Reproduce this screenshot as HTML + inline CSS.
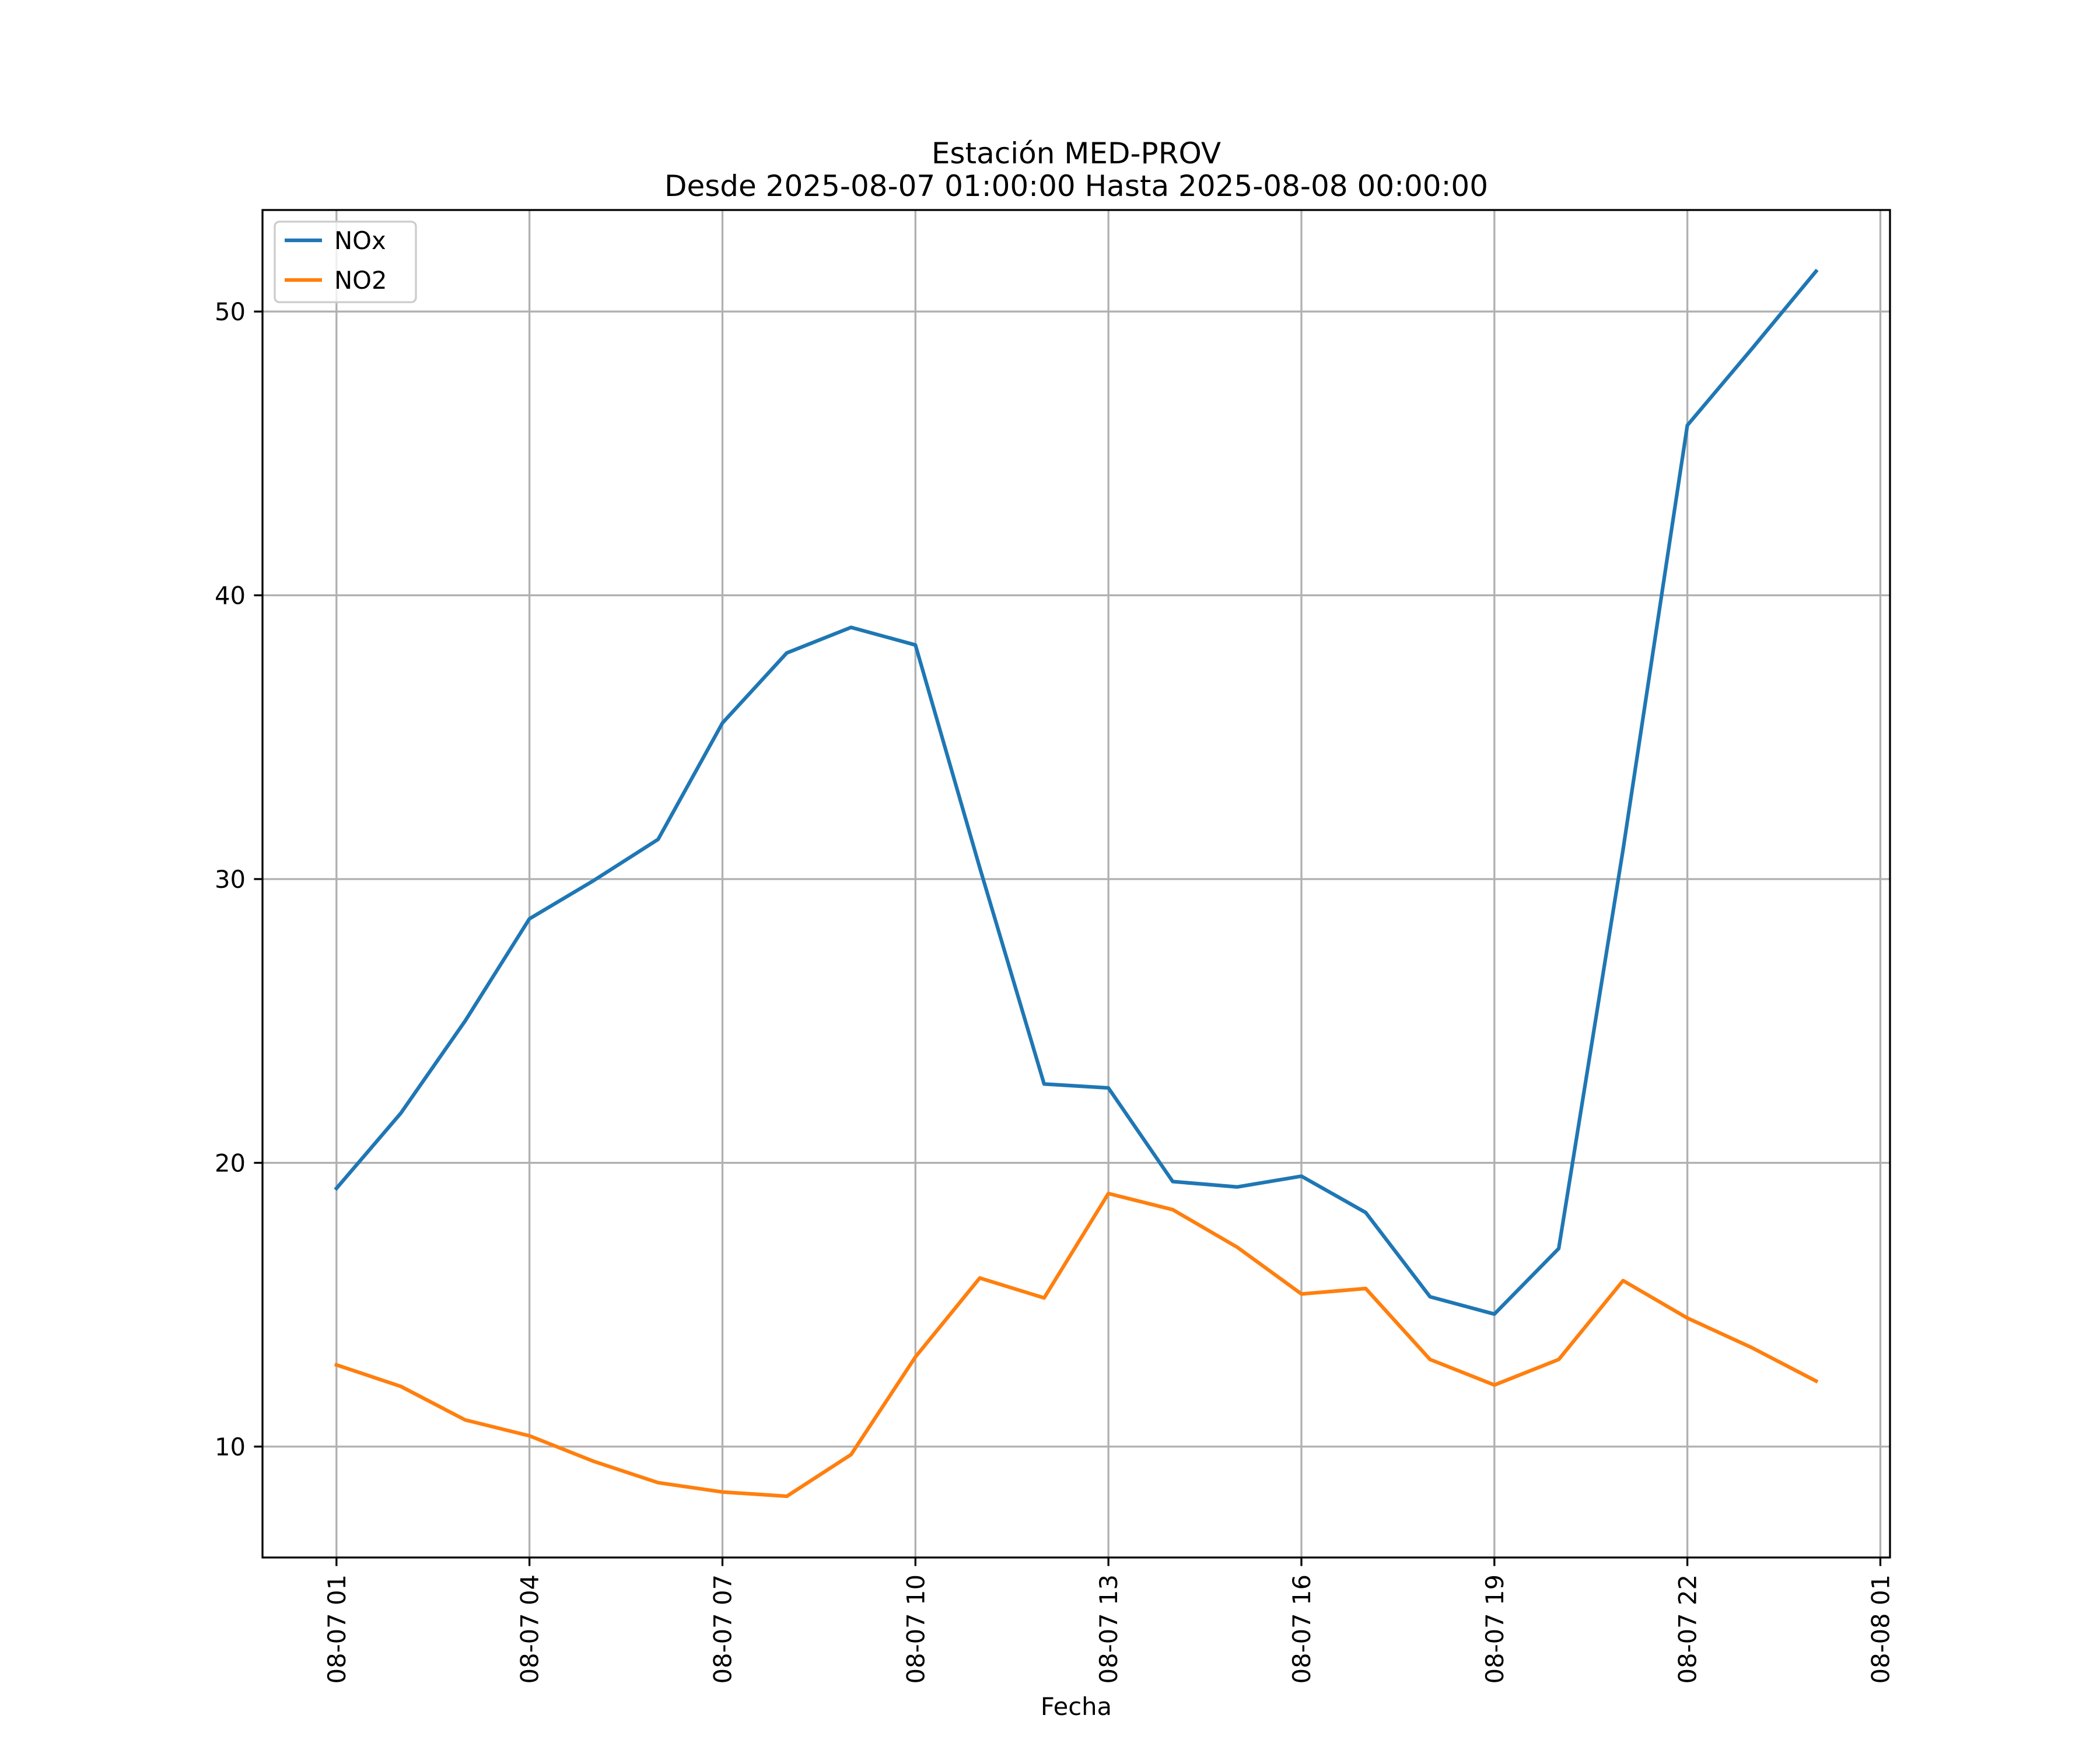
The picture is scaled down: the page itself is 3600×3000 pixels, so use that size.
<!DOCTYPE html>
<html><head><meta charset="utf-8"><style>
html,body{margin:0;padding:0;background:#fff}
svg{display:block}
text{font-family:"DejaVu Sans","Liberation Sans",sans-serif;fill:#000}
</style></head><body>
<svg id="chart" width="3600" height="3000" viewBox="0 0 3600 3000" xmlns="http://www.w3.org/2000/svg">
<rect width="3600" height="3000" fill="#fff"/>
<text x="1845" y="280" font-size="50" text-anchor="middle">Estación MED-PROV</text>
<text x="1845" y="336" font-size="50" text-anchor="middle">Desde 2025-08-07 01:00:00 Hasta 2025-08-08 00:00:00</text>
<g id="grid"></g>
<g id="series"></g>
<rect x="450" y="360" width="2790" height="2310" fill="none" stroke="#000" stroke-width="3.3"/>
<g id="ticks"></g>
<text x="1845" y="2940" font-size="41.7" text-anchor="middle">Fecha</text>
<g>
<rect x="471" y="380" width="242" height="138" rx="8" fill="#fff" fill-opacity="0.8" stroke="#ccc" stroke-width="3.3"/>
<line x1="488" y1="412" x2="552" y2="412" stroke="#1f77b4" stroke-width="6.25"/>
<text x="573" y="427" font-size="41.7">NOx</text>
<line x1="488" y1="480" x2="552" y2="480" stroke="#ff7f0e" stroke-width="6.25"/>
<text x="573" y="495" font-size="41.7">NO2</text>
</g>
</svg>
<script>
const hours = [1,2,3,4,5,6,7,8,9,10,11,12,13,14,15,16,17,18,19,20,21,22,23,24];
const noxValues = [19.1,21.75,25.0,28.6,29.95,31.4,35.5,37.97,38.87,38.25,30.4,22.78,22.64,19.34,19.15,19.53,18.25,15.28,14.67,16.98,31.04,45.99,48.68,51.42];
const no2Values = [12.88,12.12,10.94,10.38,9.48,8.73,8.40,8.25,9.72,13.16,15.94,15.24,18.92,18.35,17.03,15.38,15.57,13.07,12.17,13.07,15.85,14.53,13.49,12.31];
const yTicks = [10,20,30,40,50];
const xTickHours = [1,4,7,10,13,16,19,22,25];
const xTickLabels = ["08-07 01","08-07 04","08-07 07","08-07 10","08-07 13","08-07 16","08-07 19","08-07 22","08-08 01"];

const NS = "http://www.w3.org/2000/svg";
const L = 450, R = 3240, T = 360, B = 2670;
const xMinD = Math.min(...hours), xMaxD = Math.max(...hours);
const xm = (xMaxD - xMinD) * 0.05;
const x0 = xMinD - xm, x1 = xMaxD + xm;
const allY = noxValues.concat(no2Values);
const yMinD = Math.min(...allY), yMaxD = Math.max(...allY);
const ym = (yMaxD - yMinD) * 0.05;
const y0 = yMinD - ym, y1 = yMaxD + ym;
function xs(h){ return L + (h - x0) / (x1 - x0) * (R - L); }
function ys(v){ return B - (v - y0) / (y1 - y0) * (B - T); }
function mk(tag, attrs, parent){ const e = document.createElementNS(NS, tag); for (const k in attrs) e.setAttribute(k, attrs[k]); parent.appendChild(e); return e; }

const grid = document.getElementById('grid');
const ticks = document.getElementById('ticks');
xTickHours.forEach((h, i) => {
  const x = xs(h);
  if (x < L - 1 || x > R + 1) return;
  const g = mk('line', {x1:x, y1:T, x2:x, y2:B, stroke:'#b0b0b0', 'stroke-width':3.3}, grid);
  
  
  const t = mk('line', {x1:x, y1:B, x2:x, y2:B + 14.6, stroke:'#000', 'stroke-width':3.3}, ticks);
  
  
  const lb = mk('text', {x:0, y:0, 'font-size':41.7, 'text-anchor':'end', transform:`translate(${x + 15},${B + 29}) rotate(-90)`}, ticks);
  lb.textContent = xTickLabels[i];
  
  
});
yTicks.forEach(v => {
  const y = ys(v);
  if (y < T - 1 || y > B + 1) return;
  const g = mk('line', {x1:L, y1:y, x2:R, y2:y, stroke:'#b0b0b0', 'stroke-width':3.3}, grid);
  
  
  const t = mk('line', {x1:L - 14.6, y1:y, x2:L, y2:y, stroke:'#000', 'stroke-width':3.3}, ticks);
  
  
  const lb = mk('text', {x:L - 29, y:y + 15, 'font-size':41.7, 'text-anchor':'end'}, ticks);
  lb.textContent = String(v);
  
  
});
const series = document.getElementById('series');
function drawLine(vals, color, name){
  const pts = vals.map((v, i) => xs(hours[i]).toFixed(1) + ',' + ys(v).toFixed(1)).join(' ');
  const p = mk('polyline', {points:pts, fill:'none', stroke:color, 'stroke-width':6.25, 'stroke-linejoin':'round', 'stroke-linecap':'square'}, series);
  
  
}
drawLine(noxValues, '#1f77b4', 'nox-line');
drawLine(no2Values, '#ff7f0e', 'no2-line');
</script>
</body></html>
